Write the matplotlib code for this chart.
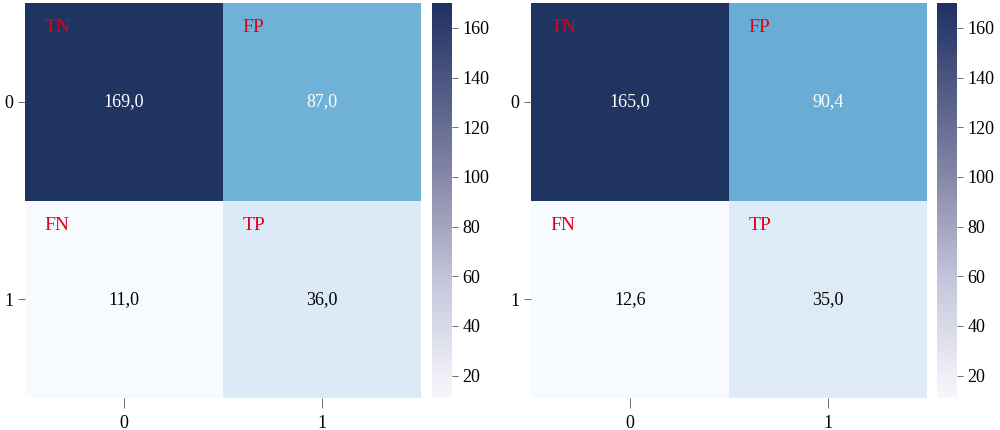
import matplotlib
matplotlib.use("Agg")
import matplotlib.pyplot as plt
import numpy as np
from matplotlib.colors import LinearSegmentedColormap, Normalize
from matplotlib.cm import ScalarMappable

plt.rcParams['font.family'] = ['Liberation Serif', 'DejaVu Serif']

# confusion matrices (rows: true 0/1, cols: predicted 0/1)
cm_left = [[169.0, 87.0],
           [11.0, 36.0]]
cm_right = [[165.0, 90.4],
            [12.6, 35.0]]
cell_tags = [["TN", "FP"],
             ["FN", "TP"]]
tick_labels = ["0", "1"]
cbar_ticks = [20, 40, 60, 80, 100, 120, 140, 160]

bar_min, bar_max = 11, 170

# cells use a blues ramp ending in navy, colorbar a white->navy ramp
cell_cmap = LinearSegmentedColormap.from_list(
    "cells", [(0.0, "#f7fbff"), (0.16, "#dbe9f6"), (0.5, "#6aaed6"), (1.0, "#1f3461")])
bar_cmap = LinearSegmentedColormap.from_list(
    "bar", [(0.0, "#f7f8fd"), (0.3, "#c4c5da"), (0.56, "#8587a7"), (1.0, "#1f3063")])


def draw_cm(ax, cax, data):
    data = np.array(data)
    norm = Normalize(vmin=data.min(), vmax=data.max())
    ax.pcolormesh(data, cmap=cell_cmap, norm=norm)
    ax.set_xlim(0, 2)
    ax.set_ylim(2, 0)
    for i in range(2):
        for j in range(2):
            val = data[i, j]
            col = "white" if norm(val) > 0.4 else "black"
            ax.text(j + 0.5, i + 0.5, f"{val:.1f}".replace(".", ","),
                    ha="center", va="center", fontsize=13, color=col)
            ax.text(j + 0.1, i + 0.125, cell_tags[i][j],
                    ha="left", va="center", fontsize=14, color="#e0001b")
    ax.set_xticks([0.5, 1.5])
    ax.set_xticklabels(tick_labels)
    ax.set_yticks([0.5, 1.5])
    ax.set_yticklabels(tick_labels, rotation=0)
    ax.tick_params(labelsize=13, length=5, width=0.6, color="#555555")
    ax.tick_params(axis="x", length=7, pad=5)
    for s in ax.spines.values():
        s.set_visible(False)

    sm = ScalarMappable(norm=Normalize(vmin=bar_min, vmax=bar_max), cmap=bar_cmap)
    cb = plt.colorbar(sm, cax=cax, ticks=cbar_ticks)
    cb.outline.set_visible(False)
    cb.ax.tick_params(labelsize=13, length=4, width=0.6, color="#555555")


fig = plt.figure(figsize=(10, 4.3), dpi=100)
ax1 = fig.add_axes([0.025, 0.0744, 0.396, 0.9186])
cax1 = fig.add_axes([0.432, 0.0744, 0.02, 0.9186])
ax2 = fig.add_axes([0.531, 0.0744, 0.396, 0.9186])
cax2 = fig.add_axes([0.937, 0.0744, 0.02, 0.9186])

draw_cm(ax1, cax1, cm_left)
draw_cm(ax2, cax2, cm_right)

plt.savefig("out.png", dpi=100)
plt.close()
